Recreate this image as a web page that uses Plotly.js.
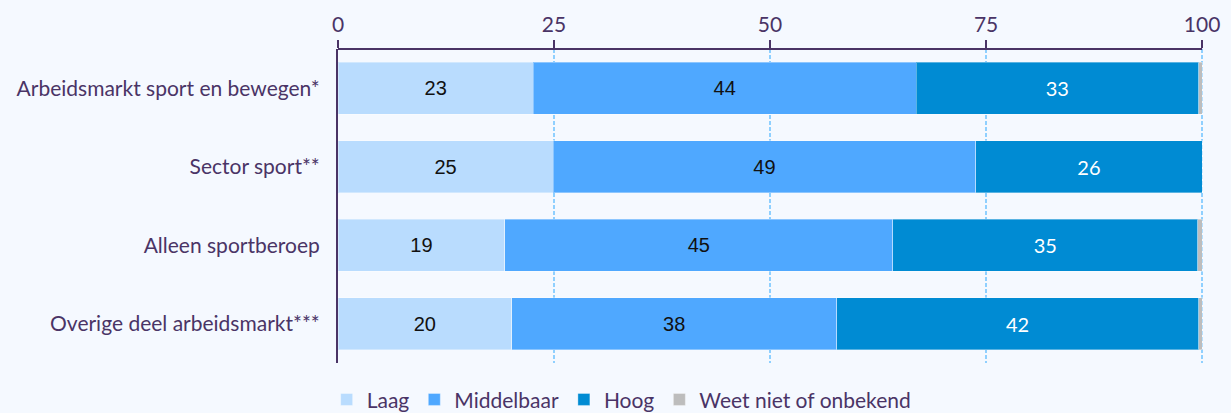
<!DOCTYPE html>
<html>
<head>
<meta charset="utf-8">
<script src="https://cdn.plot.ly/plotly-3.0.1.min.js"></script>
<style>
html,body{margin:0;padding:0;background:#f5f9ff;}
#chart{width:1231px;height:413px;}
</style>
</head>
<body>
<div id="chart"></div>
<script>
const categories = ["Arbeidsmarkt sport en bewegen*", "Sector sport**", "Alleen sportberoep", "Overige deel arbeidsmarkt***"];
const laag = [22.6, 24.9, 19.3, 20.1];
const middelbaar = [44.3, 48.9, 44.9, 37.6];
const hoog = [32.7, 26.2, 35.3, 41.9];
const onbekend = [0.4, 0.0, 0.5, 0.4];
const laagLabels = ["23", "25", "19", "20"];
const middelbaarLabels = ["44", "49", "45", "38"];
const hoogLabels = ["33", "26", "35", "42"];
const xTicks = [0, 25, 50, 75, 100];

const purple = "#4a3466";
const lineStyle = {color: "rgba(255,255,255,0.35)", width: 1};

function series(name, vals, labels, color, textColor, fontFamily) {
  return {
    type: "bar", orientation: "h", name: name,
    y: categories, x: vals,
    text: labels || null,
    texttemplate: labels ? "%{text}" : "",
    textposition: labels ? "inside" : "none",
    insidetextanchor: "middle",
    textangle: 0,
    insidetextfont: {color: textColor, size: 20, family: fontFamily},
    marker: {color: color, line: lineStyle},
    hoverinfo: "skip"
  };
}

const data = [
  series("Laag", laag, laagLabels, "#b9dcfe", "#111111", "Liberation Sans, Arial, sans-serif"),
  series("Middelbaar", middelbaar, middelbaarLabels, "#4fa8ff", "#111111", "Liberation Sans, Arial, sans-serif"),
  series("Hoog", hoog, hoogLabels, "#008bd3", "#ffffff", "Lato, sans-serif"),
  series("Weet niet of onbekend", onbekend, null, "#bdbdbd", "#111111", "Lato, sans-serif")
];

const layout = {
  width: 1231, height: 413,
  barmode: "stack",
  bargap: 0.34,
  paper_bgcolor: "#f5f9ff",
  plot_bgcolor: "#f5f9ff",
  margin: {l: 338, r: 22, t: 49, b: 50},
  font: {family: "Lato, sans-serif", color: purple, size: 21},
  xaxis: {
    side: "top",
    range: [0, 100.8],
    tickvals: xTicks,
    ticktext: xTicks.map(String),
    showline: false,
    ticks: "outside", ticklen: 8, tickcolor: purple, tickwidth: 2,
    ticklabelstandoff: 0,
    showgrid: true, gridcolor: "#8fd0ff", griddash: "4px,2px", gridwidth: 2,
    zeroline: false,
    tickfont: {size: 21, color: purple},
    fixedrange: true
  },
  yaxis: {
    autorange: "reversed",
    showline: true, linecolor: purple, linewidth: 2,
    ticks: "", ticklabelstandoff: 12,
    tickfont: {size: 21, color: purple},
    showgrid: false, zeroline: false,
    fixedrange: true
  },
  shapes: [
    {type: "line", xref: "x", yref: "paper", x0: 0, x1: 100, y0: 1, y1: 1,
     line: {color: purple, width: 2}, layer: "above"}
  ],
  showlegend: true,
  legend: {
    orientation: "h",
    xref: "container", yref: "container",
    x: 0.505, xanchor: "center",
    y: 0.032, yanchor: "middle",
    font: {size: 21, color: purple},
    traceorder: "normal",
    itemclick: false, itemdoubleclick: false,
    bgcolor: "rgba(0,0,0,0)"
  }
};

Plotly.newPlot("chart", data, layout, {displayModeBar: false, staticPlot: true});
</script>
</body>
</html>
